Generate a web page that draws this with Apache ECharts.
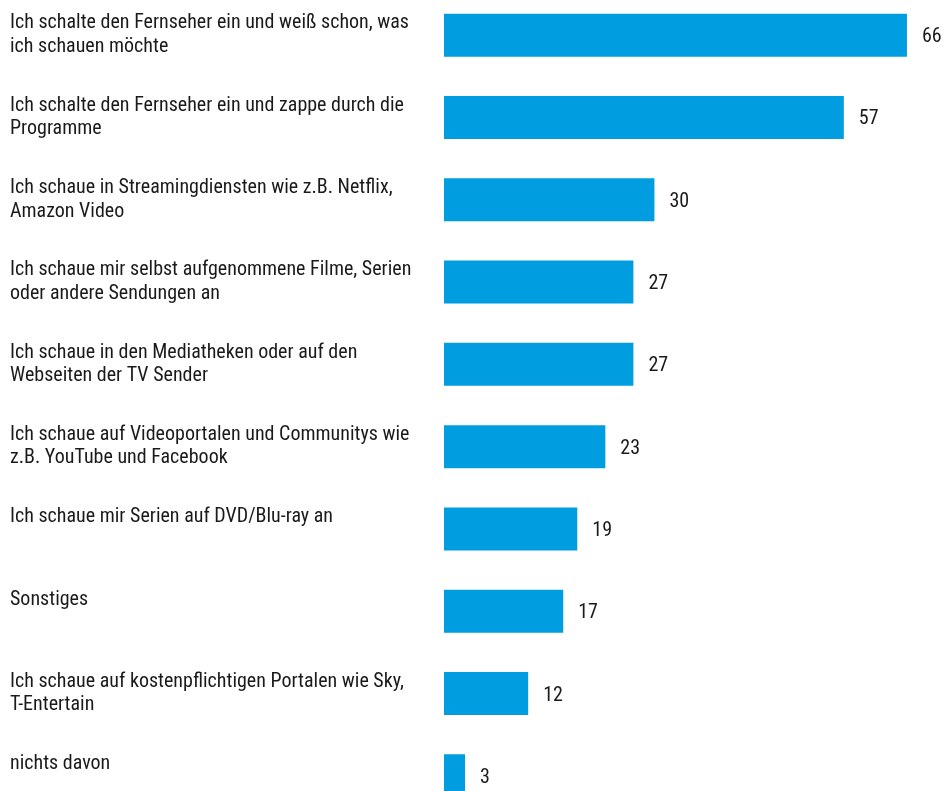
<!DOCTYPE html>
<html>
<head>
<meta charset="utf-8">
<script src="https://cdn.jsdelivr.net/npm/echarts@6/dist/echarts.min.js"></script>
<style>
  html, body { margin: 0; padding: 0; background: #fff; overflow: hidden; }
  /* the plot runs past the bottom edge in the original, so the box is taller than the window */
  #chart { width: 949px; height: 823px; margin-top: -6px; }
</style>
</head>
<body>
<div id="chart"></div>
<script>
const categories = [
  'Ich schalte den Fernseher ein und weiß schon, was\nich schauen möchte',
  'Ich schalte den Fernseher ein und zappe durch die\nProgramme',
  'Ich schaue in Streamingdiensten wie z.B. Netflix,\nAmazon Video',
  'Ich schaue mir selbst aufgenommene Filme, Serien\noder andere Sendungen an',
  'Ich schaue in den Mediatheken oder auf den\nWebseiten der TV Sender',
  'Ich schaue auf Videoportalen und Communitys wie\nz.B. YouTube und Facebook',
  'Ich schaue mir Serien auf DVD/Blu-ray an',
  'Sonstiges',
  'Ich schaue auf kostenpflichtigen Portalen wie Sky,\nT-Entertain',
  'nichts davon'
]
const values = [66, 57, 30, 27, 27, 23, 19, 17, 12, 3]

const font = "'Roboto Condensed', 'Liberation Sans', sans-serif"
const barColor = '#009ee0'
const textColor = '#1a1a1a'

const chart = echarts.init(document.getElementById('chart'))

chart.setOption({
  animation: false,
  backgroundColor: '#fff',
  grid: { left: 444, right: 14, top: 0, bottom: 0, containLabel: false },
  xAxis: {
    type: 'value',
    min: 0,
    max: 70,
    show: false
  },
  yAxis: {
    type: 'category',
    data: categories,
    inverse: true,
    axisLine: { show: false },
    axisTick: { show: false },
    axisLabel: {
      margin: 434,
      align: 'left',
      verticalAlign: 'middle',
      fontFamily: font,
      fontSize: 20,
      lineHeight: 23.5,
      padding: [2, 0, 0, 0],
      color: textColor,
      // single-line labels sit at the top of the bar like the first line of two
      formatter: (v) => v.indexOf('\n') < 0 ? v + '\n ' : v
    }
  },
  series: [{
    type: 'bar',
    data: values,
    barWidth: 43,
    itemStyle: { color: barColor },
    label: {
      show: true,
      position: 'right',
      distance: 15,
      offset: [0, 2],
      fontFamily: font,
      fontSize: 20,
      color: textColor
    }
  }]
})
</script>
</body>
</html>
